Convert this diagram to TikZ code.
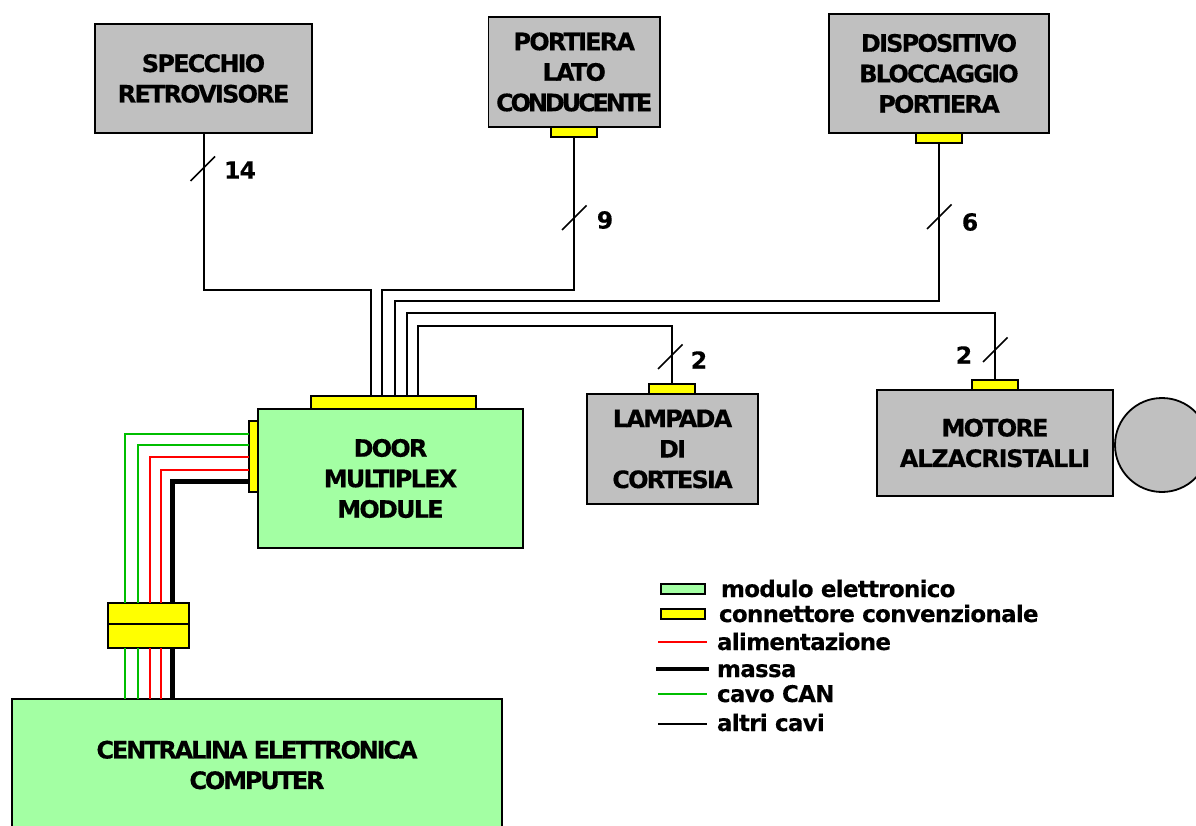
\documentclass[tikz,border=0pt]{standalone}
\usepackage{fontspec}
\setmainfont{DejaVu Sans}[LetterSpace=-3.2,BoldFeatures={FakeBold=0.25}]
\newfontfamily\tightfont{DejaVu Sans}[LetterSpace=-7.5,BoldFeatures={FakeBold=0.35}]
\newfontfamily\wideboxfont{DejaVu Sans}[LetterSpace=-5,BoldFeatures={FakeBold=0.35}]
\newfontfamily\centfont{DejaVu Sans}[LetterSpace=-9,BoldFeatures={FakeBold=0.35}]
\newfontfamily\condfont{DejaVu Sans}[LetterSpace=-13,BoldFeatures={FakeBold=0.35}]
\definecolor{modgreen}{RGB}{163,255,163}
\definecolor{boxgray}{RGB}{192,192,192}
\definecolor{canwire}{RGB}{0,190,0}
\definecolor{conyellow}{RGB}{255,255,0}
\definecolor{redwire}{RGB}{255,0,0}
\tikzset{
  every node/.style={outer sep=0pt},
  box/.style={draw=black,line width=1.8pt,inner sep=0pt,anchor=north west,align=center,text=black,font=\tightfont\bfseries\fontsize{24}{30.5}\selectfont},
  graybox/.style={box,fill=boxgray},
  greenbox/.style={box,fill=modgreen},
  conn/.style={draw=black,line width=1.8pt,fill=conyellow,inner sep=0pt,anchor=north west},
  wire/.style={line width=2pt,draw=black,line join=miter},
  red wire/.style={line width=2pt,draw=redwire},
  can wire/.style={line width=2pt,draw=canwire},
  ground wire/.style={line width=4.5pt,draw=black},
  tick/.style={line width=1.6pt,draw=black},
  count/.style={inner sep=0pt,font=\bfseries\fontsize{23.5}{26}\selectfont},
  legend/.style={inner sep=0pt,anchor=base west,font=\bfseries\fontsize{23}{26}\selectfont},
  swatch/.style={draw=black,line width=1.8pt,inner sep=0pt,anchor=north west,minimum width=44pt,minimum height=10pt},
}
\begin{document}
\begin{tikzpicture}[x=1pt,y=-1pt]
\useasboundingbox (0,0) rectangle (1196,826);
\begin{scope}
\clip (0,0) rectangle (1196,826);
\coordinate (b1) at (371,289.5);
\coordinate (b2) at (382,289.5);
\coordinate (b3) at (395,301);
\coordinate (b4) at (407,313);
\coordinate (b5) at (418,326);
\coordinate (w1) at (124.5,433.5);
\coordinate (w2) at (138,445);
\coordinate (w3) at (149.5,456.5);
\coordinate (w4) at (161,470);
\coordinate (w5) at (172.5,481.5);

\node[graybox,minimum width=217pt,minimum height=109pt,yshift=0pt] (specchio) at (95,24) {\raisebox{-1pt}{SPECCHIO}\\\raisebox{-1pt}{RETROVISORE}};
\node[graybox,minimum width=171.5pt,minimum height=110pt] (portiera) at (488.5,17) {PORTIERA\\LATO\\{\condfont CONDUCENTE}};
\node[graybox,minimum width=220pt,minimum height=119pt] (dispositivo) at (829,14) {DISPOSITIVO\\BLOCCAGGIO\\PORTIERA};
\node[graybox,minimum width=171pt,minimum height=110pt] (lampada) at (587,394) {LAMPADA\\DI\\CORTESIA};
\node[graybox,minimum width=236pt,minimum height=106pt] (motore) at (877,390) {MOTORE\\{\wideboxfont ALZACRISTALLI}};
\node[draw=black,line width=1.8pt,fill=boxgray,circle,inner sep=0pt,minimum size=94pt] (rotor) at (1162,445) {};
\node[greenbox,minimum width=265pt,minimum height=139pt] (door) at (258,409) {DOOR\\MULTIPLEX\\MODULE};
\node[greenbox,minimum width=490pt,minimum height=140pt] (central) at (12,699) {};
\node[inner sep=0pt,align=center,font=\centfont\bfseries\fontsize{24}{30.5}\selectfont] (centraltext) at (257,765) {CENTRALINA ELETTRONICA\\COMPUTER};

\node[conn,minimum width=46pt,minimum height=10pt] (portconn) at (551,127) {};
\node[conn,minimum width=46pt,minimum height=10pt] (dispconn) at (916,133) {};
\node[conn,minimum width=46pt,minimum height=10pt] (lampconn) at (649,384) {};
\node[conn,minimum width=46pt,minimum height=10pt] (motconn) at (972,380) {};
\node[conn,minimum width=165pt,minimum height=13pt] (topconn) at (311,396) {};
\node[conn,minimum width=9pt,minimum height=71pt] (leftconn) at (249,421) {};
\node[conn,minimum width=81pt,minimum height=21pt] (blockup) at (108,603) {};
\node[conn,minimum width=81pt,minimum height=24pt] (blockdown) at (108,624) {};

\draw[wire] (specchio.south) |- (b1) -- (b1 |- topconn.north);
\draw[wire] (portconn.south) |- (b2) -- (b2 |- topconn.north);
\draw[wire] (dispconn.south) |- (b3) -- (b3 |- topconn.north);
\draw[wire] (motconn.north) |- (b4) -- (b4 |- topconn.north);
\draw[wire] (lampconn.north) |- (b5) -- (b5 |- topconn.north);

\draw[can wire] (w1 -| leftconn.west) -- (w1) -- (w1 |- blockup.north);
\draw[can wire] (w2 -| leftconn.west) -- (w2) -- (w2 |- blockup.north);
\draw[red wire] (w3 -| leftconn.west) -- (w3) -- (w3 |- blockup.north);
\draw[red wire] (w4 -| leftconn.west) -- (w4) -- (w4 |- blockup.north);
\draw[ground wire] (w5 -| leftconn.west) -- (w5) -- (w5 |- blockup.north);

\draw[can wire] (w1 |- blockdown.south) -- (w1 |- central.north);
\draw[can wire] (w2 |- blockdown.south) -- (w2 |- central.north);
\draw[red wire] (w3 |- blockdown.south) -- (w3 |- central.north);
\draw[red wire] (w4 |- blockdown.south) -- (w4 |- central.north);
\draw[ground wire] (w5 |- blockdown.south) -- (w5 |- central.north);

\draw[tick] (190.5,181) -- ++(24.5,-24.5);
\draw[tick] (562,230) -- ++(24.5,-24.5);
\draw[tick] (927,229) -- ++(24.5,-24.5);
\draw[tick] (658,369) -- ++(24.5,-24.5);
\draw[tick] (983,362) -- ++(24.5,-24.5);
\node[count] (n14) at (240,170) {14};
\node[count] (n9) at (605,220) {9};
\node[count] (n6) at (970,222) {6};
\node[count] (n2a) at (699,360) {2};
\node[count] (n2b) at (964,355) {2};

\node[swatch,fill=modgreen] (lgreen) at (661,584) {};
\node[swatch,fill=conyellow] (lyellow) at (661,609) {};
\coordinate (lr1) at (658,642); \coordinate (lr2) at (707,642);
\coordinate (lm1) at (656,669); \coordinate (lm2) at (709,669);
\coordinate (lc1) at (658,694); \coordinate (lc2) at (707,694);
\coordinate (la1) at (658,724); \coordinate (la2) at (707,724);
\draw[red wire] (lr1) -- (lr2);
\draw[ground wire] (lm1) -- (lm2);
\draw[can wire] (lc1) -- (lc2);
\draw[wire] (la1) -- (la2);
\node[legend] (t1) at (721,597) {modulo elettronico};
\node[legend] (t2) at (719,622) {connettore convenzionale};
\node[legend] (t3) at (717,650) {alimentazione};
\node[legend] (t4) at (717,677) {massa};
\node[legend] (t5) at (717,702) {cavo CAN};
\node[legend] (t6) at (717,731) {altri cavi};
\end{scope}
\end{tikzpicture}
\end{document}
